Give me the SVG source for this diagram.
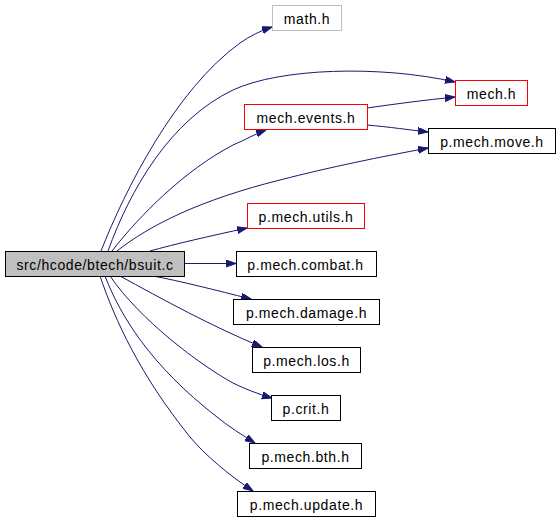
<svg xmlns="http://www.w3.org/2000/svg" width="560" height="520" viewBox="0 0 560 520">
<style>
.n rect{fill:#ffffff;stroke:#000000;stroke-width:1}
.n.red rect{stroke:#ff0000}
.n.gray rect{stroke:#bfbfbf}
.n.src rect{fill:#bfbfbf}
.n text{font-family:"Liberation Sans",Arial,sans-serif;font-size:14px;letter-spacing:0.6px;text-anchor:middle;fill:#000000}
.e path{fill:none;stroke:#191970;stroke-width:1;marker-end:url(#ah)}
</style>
<defs>
<marker id="ah" markerUnits="userSpaceOnUse" markerWidth="11" markerHeight="8" refX="10" refY="3.5" orient="auto">
<path d="M0,0 L10,3.5 L0,7 z" fill="#191970" stroke="#191970" stroke-width="1"/>
</marker>
</defs>
<rect width="560" height="520" fill="#ffffff"/>
<g id="edges" class="e">
<path d="M101,251 C125,190 175,90 240,43 C250,36 260,31 272,27"/>
<path d="M108,251 C130,190 170,120 233,90 C280,68 380,65 455,82"/>
<path d="M112,251 C140,215 185,170 233,145 C245,140 255,134 266,130"/>
<path d="M117,251 C150,225 200,200 280,180 C330,167 380,157 428,148"/>
<path d="M367,108 C395,104 425,100 455,97"/>
<path d="M367,125 C390,127 410,130 428,132"/>
<path d="M150,251 C175,244 210,236 247,228"/>
<path d="M184,263.5 L236,263.5"/>
<path d="M153,276 C180,281 215,290 251,299"/>
<path d="M120,276 C160,298 215,328 262,347"/>
<path d="M110,276 C140,320 200,365 233,383 C245,389 258,394 272,398"/>
<path d="M105,276 C120,315 150,365 217,417 C228,426 242,435 255,443"/>
<path d="M100,276 C115,320 140,375 190,437 C205,455 230,476 253,491"/>
</g>
<g id="n_bsuit" class="n src"><rect x="5.5" y="251.5" width="179" height="25"/><text x="95" y="269.5">src/hcode/btech/bsuit.c</text></g>
<g id="n_math" class="n gray"><rect x="272.5" y="5.5" width="69" height="25"/><text x="307" y="23.5">math.h</text></g>
<g id="n_mech" class="n red"><rect x="455.5" y="80.5" width="72" height="25"/><text x="491.5" y="98.5">mech.h</text></g>
<g id="n_events" class="n red"><rect x="244.5" y="104.5" width="123" height="25"/><text x="306" y="122.5">mech.events.h</text></g>
<g id="n_move" class="n"><rect x="428.5" y="128.5" width="127" height="25"/><text x="492" y="146.5">p.mech.move.h</text></g>
<g id="n_utils" class="n red"><rect x="247.5" y="203.5" width="117" height="25"/><text x="306" y="221.5">p.mech.utils.h</text></g>
<g id="n_combat" class="n"><rect x="236.5" y="251.5" width="140" height="25"/><text x="305.5" y="269.5">p.mech.combat.h</text></g>
<g id="n_damage" class="n"><rect x="233.5" y="299.5" width="146" height="25"/><text x="306.5" y="317.5">p.mech.damage.h</text></g>
<g id="n_los" class="n"><rect x="252.5" y="347.5" width="108" height="25"/><text x="306.5" y="365.5">p.mech.los.h</text></g>
<g id="n_crit" class="n"><rect x="271.5" y="395.5" width="69" height="25"/><text x="306" y="413.5">p.crit.h</text></g>
<g id="n_bth" class="n"><rect x="249.5" y="443.5" width="112" height="25"/><text x="305.5" y="461.5">p.mech.bth.h</text></g>
<g id="n_update" class="n"><rect x="237.5" y="491.5" width="138" height="25"/><text x="306.5" y="509.5">p.mech.update.h</text></g>
</svg>
